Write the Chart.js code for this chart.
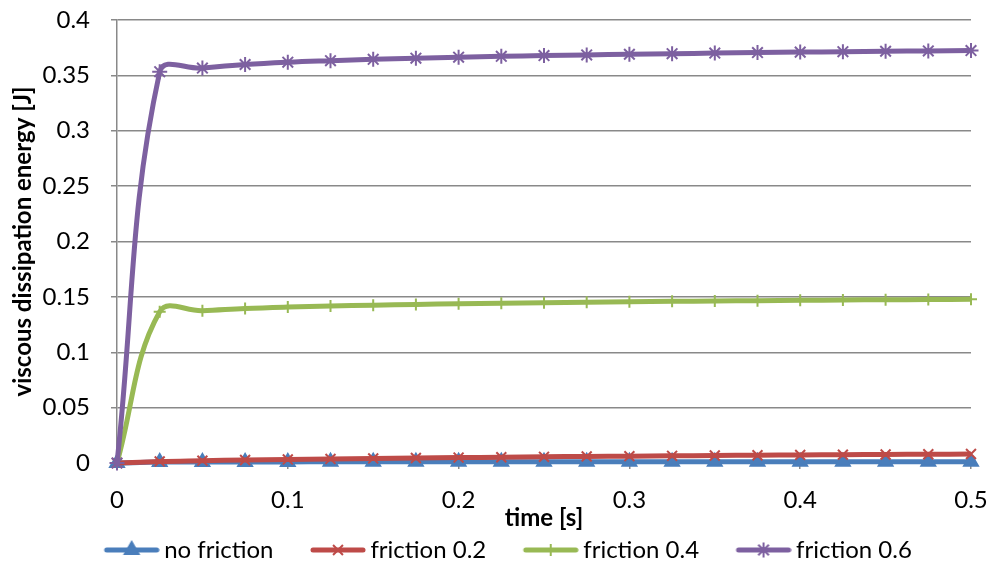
<!DOCTYPE html>
<html>
<head>
<meta charset="utf-8">
<title>Viscous dissipation energy</title>
<script src="https://cdn.jsdelivr.net/npm/chart.js@4.4.1/dist/chart.umd.min.js"></script>
<style>
    html, body { margin: 0; padding: 0; background: #ffffff; }
    #wrap { width: 989px; height: 565px; position: relative; }
</style>
</head>
<body>
<div id="wrap"><canvas id="energyChart"></canvas></div>
<script>
// Sample times [s]
const timeS = [0, 0.025, 0.05, 0.075, 0.1, 0.125, 0.15, 0.175, 0.2, 0.225, 0.25,
               0.275, 0.3, 0.325, 0.35, 0.375, 0.4, 0.425, 0.45, 0.475, 0.5];

// Viscous dissipation energy [J] per friction case
const noFriction = [0, 0.0008, 0.0009, 0.0010, 0.0010, 0.0011, 0.0011, 0.0011, 0.0011, 0.0011, 0.0012,
                    0.0012, 0.0012, 0.0012, 0.0012, 0.0012, 0.0012, 0.0012, 0.0012, 0.0012, 0.0012];
const friction02 = [0, 0.0014, 0.0021, 0.0027, 0.0032, 0.0037, 0.0041, 0.0045, 0.0049, 0.0052, 0.0056,
                    0.0059, 0.0062, 0.0065, 0.0068, 0.0070, 0.0073, 0.0075, 0.0077, 0.0079, 0.0081];
const friction04 = [0, 0.1366, 0.1375, 0.1395, 0.1408, 0.1417, 0.1425, 0.1432, 0.1438, 0.1443, 0.1448,
                    0.1452, 0.1456, 0.1460, 0.1463, 0.1466, 0.1469, 0.1472, 0.1474, 0.1476, 0.1478];
const friction06 = [0, 0.3533, 0.3566, 0.3598, 0.3619, 0.3633, 0.3645, 0.3655, 0.3664, 0.3672, 0.3679,
                    0.3685, 0.3691, 0.3696, 0.3701, 0.3706, 0.3710, 0.3714, 0.3718, 0.3721, 0.3724];

const seriesNames = ['no friction', 'friction 0.2', 'friction 0.4', 'friction 0.6'];
const xTickLabels = ['0', '0.1', '0.2', '0.3', '0.4', '0.5'];
const yTickLabels = ['0', '0.05', '0.1', '0.15', '0.2', '0.25', '0.3', '0.35', '0.4'];

// Excel-style series look
const styles = [
    { color: '#4A7EBB', point: 'triangle', radius: 8 },
    { color: '#BE4B48', point: 'crossRot', radius: 7 },
    { color: '#98B954', point: 'cross',    radius: 6 },
    { color: '#7D60A0', point: 'star',     radius: 7.5 }
];
const LINE_WIDTH = 5;
const GRID = '#898989';
const FONT_SIZE = 24;

// Legend swatch: a short line with the marker in the middle, drawn to a canvas
// and handed to the legend as its point style
const SWATCH_BOX = 85;     // legend box width
const SWATCH_SHIFT = 37;   // where the line starts inside the box
const SWATCH_LINE = 55;    // line length

function makeSwatch(style) {
    const half = Math.ceil(Math.max(SWATCH_BOX / 2 - SWATCH_SHIFT, SWATCH_SHIFT + SWATCH_LINE - SWATCH_BOX / 2));
    const c = document.createElement('canvas');
    c.width = half * 2;
    c.height = 22;
    const ctx = c.getContext('2d');
    const x0 = half - SWATCH_BOX / 2 + SWATCH_SHIFT;
    ctx.strokeStyle = style.color;
    ctx.fillStyle = style.color;
    ctx.lineWidth = LINE_WIDTH;
    ctx.lineCap = 'round';
    ctx.beginPath();
    ctx.moveTo(x0 + 2.5, 11);
    ctx.lineTo(x0 + SWATCH_LINE - 2.5, 11);
    ctx.stroke();
    ctx.lineWidth = 2;
    ctx.lineCap = 'butt';
    Chart.helpers.drawPoint(ctx, {
        pointStyle: style.point,
        radius: style.radius,
        borderWidth: 2,
        rotation: 0
    }, x0 + SWATCH_LINE / 2, 11);
    return c;
}

const seriesData = [noFriction, friction02, friction04, friction06];
const swatches = styles.map(makeSwatch);

const datasets = seriesData.map((values, i) => ({
    label: seriesNames[i],
    data: values.map((v, k) => ({ x: timeS[k], y: v })),
    borderColor: styles[i].color,
    backgroundColor: styles[i].color,
    borderWidth: LINE_WIDTH,
    pointStyle: styles[i].point,
    pointRadius: styles[i].radius,
    pointHoverRadius: styles[i].radius,
    pointBorderWidth: 2,
    pointBorderColor: styles[i].color,
    pointBackgroundColor: styles[i].color,
    tension: 0.4,
    clip: false,
    order: seriesData.length - i   // first series at the back
}));

Chart.defaults.font.family = 'Lato, "Open Sans", sans-serif';
Chart.defaults.color = '#000000';

const ctx = document.getElementById('energyChart').getContext('2d');
const energyChart = new Chart(ctx, {
    type: 'line',
    data: { datasets },
    options: {
        responsive: true,
        maintainAspectRatio: false,
        animation: false,
        layout: {
            padding: { left: 8, right: 18, top: 20, bottom: 0 }
        },
        plugins: {
            tooltip: { enabled: false },
            legend: {
                position: 'bottom',
                maxHeight: 27,
                labels: {
                    usePointStyle: true,
                    pointStyleWidth: SWATCH_BOX,
                    padding: 0,
                    font: { size: FONT_SIZE },
                    color: '#000000',
                    generateLabels: chart => chart.data.datasets.map((ds, i) => ({
                        text: ds.label,
                        pointStyle: swatches[i],
                        fillStyle: ds.borderColor,
                        strokeStyle: ds.borderColor,
                        lineWidth: 0,
                        hidden: !chart.isDatasetVisible(i),
                        datasetIndex: i
                    }))
                }
            }
        },
        scales: {
            x: {
                type: 'linear',
                min: 0,
                max: 0.5,
                // fixed height; end labels may hang past the plot edges
                afterFit: scale => {
                    scale.height = 75;
                    scale.paddingLeft = 0;
                    scale.paddingRight = 0;
                },
                ticks: {
                    stepSize: 0.1,
                    padding: 16.5,
                    maxRotation: 0,
                    font: { size: FONT_SIZE },
                    callback: (value, index) => xTickLabels[index]
                },
                grid: {
                    drawOnChartArea: false,
                    drawTicks: true,
                    tickLength: 6,
                    color: GRID,
                    lineWidth: 1.5
                },
                border: { color: GRID, width: 1.5 },
                title: {
                    display: true,
                    text: 'time [s]',
                    font: { size: FONT_SIZE, weight: 'bold' },
                    padding: { top: 0, bottom: 5.5 }
                }
            },
            y: {
                min: 0,
                max: 0.4,
                afterFit: scale => {
                    scale.width = 109;
                    scale.paddingTop = 0;
                    scale.paddingBottom = 0;
                },
                ticks: {
                    stepSize: 0.05,
                    padding: 21,
                    font: { size: FONT_SIZE },
                    callback: (value, index) => yTickLabels[index]
                },
                grid: {
                    drawTicks: true,
                    tickLength: 6,
                    color: GRID,
                    lineWidth: 1.5
                },
                border: { color: GRID, width: 1.5 },
                title: {
                    display: true,
                    text: 'viscous dissipation energy [J]',
                    font: { size: FONT_SIZE, weight: 'bold' },
                    padding: { top: 1, bottom: 0 }
                }
            }
        }
    }
});
</script>
</body>
</html>
